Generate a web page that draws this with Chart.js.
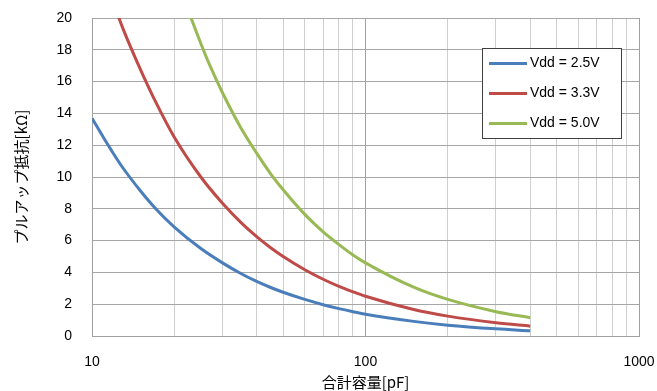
<!DOCTYPE html>
<html>
<head>
<meta charset="utf-8">
<script src="https://cdn.jsdelivr.net/npm/chart.js@4"></script>
<style>
  html, body { margin: 0; padding: 0; background: #fff; }
  #wrap { width: 657px; height: 391px; }
</style>
</head>
<body>
<div id="wrap"><canvas id="chart1" width="657" height="391"></canvas></div>
<script>
// capacitance [pF] and max pull-up resistance [kΩ]
const capBlue = [10, 11, 12, 13, 15, 17, 20, 25, 30, 35, 40, 45, 50, 60, 70, 80, 90, 100, 150, 200, 300, 400];
const vdd25 = [13.7, 12.5, 11.45, 10.55, 9.15, 8.05, 6.85, 5.5, 4.6, 3.93, 3.43, 3.05, 2.75, 2.3, 1.97, 1.72, 1.53, 1.37, 0.92, 0.68, 0.45, 0.33];
const capRed = [12, 13, 15, 17, 20, 25, 30, 35, 40, 45, 50, 60, 70, 80, 90, 100, 150, 200, 300, 400];
const vdd33 = [20.9, 19.3, 16.8, 14.8, 12.5, 10.0, 8.35, 7.15, 6.25, 5.55, 5.0, 4.17, 3.57, 3.12, 2.78, 2.5, 1.67, 1.25, 0.83, 0.62];
const capGreen = [22, 25, 27, 30, 35, 40, 45, 50, 60, 70, 80, 90, 100, 150, 200, 300, 400];
const vdd50 = [20.9, 18.4, 17.0, 15.3, 13.1, 11.5, 10.2, 9.2, 7.65, 6.55, 5.75, 5.1, 4.6, 3.07, 2.3, 1.53, 1.15];

const seriesNames = ['Vdd = 2.5V', 'Vdd = 3.3V', 'Vdd = 5.0V'];
const xTicks = [10, 20, 30, 40, 50, 60, 70, 80, 90, 100, 200, 300, 400, 500, 600, 700, 800, 900, 1000];
const xLabels = [10, 100, 1000];

const toPoints = (xs, ys) => xs.map((x, i) => ({ x: x, y: ys[i] }));

// legend box drawn inside the plot area
const boxLegend = {
    id: 'boxLegend',
    afterDraw(chart) {
        const ctx = chart.ctx;
        ctx.save();
        ctx.fillStyle = '#fff';
        ctx.fillRect(482, 48, 139, 90);
        ctx.strokeStyle = '#404040';
        ctx.lineWidth = 1;
        ctx.strokeRect(482.5, 48.5, 139, 90);
        ctx.font = '14px "Liberation Sans", Arial, sans-serif';
        ctx.textBaseline = 'middle';
        ctx.fillStyle = '#000';
        chart.data.datasets.forEach((ds, i) => {
            const y = 63.5 + i * 30;
            ctx.strokeStyle = ds.borderColor;
            ctx.lineWidth = 3;
            ctx.beginPath();
            ctx.moveTo(489, y);
            ctx.lineTo(527, y);
            ctx.stroke();
            ctx.fillText(ds.label, 530, y);
        });
        ctx.restore();
    }
};

const chart1Ctx = document.getElementById("chart1").getContext("2d");
const chart1 = new Chart(chart1Ctx, {
    type: 'line',
    data: {
        datasets: [{
            label: seriesNames[0],
            data: toPoints(capBlue, vdd25),
            borderColor: '#4a7ebb',
        }, {
            label: seriesNames[1],
            data: toPoints(capRed, vdd33),
            borderColor: '#be4b48',
        }, {
            label: seriesNames[2],
            data: toPoints(capGreen, vdd50),
            borderColor: '#98b954',
        }]
    },
    options: {
        responsive: false,
        animation: false,
        devicePixelRatio: 1,
        elements: {
            line: { borderWidth: 3, cubicInterpolationMode: 'monotone', fill: false },
            point: { radius: 0 }
        },
        layout: { padding: { top: 18, right: 18, left: 0, bottom: 0 } },
        plugins: {
            legend: { display: false },
            tooltip: { enabled: false }
        },
        scales: {
            x: {
                type: 'logarithmic',
                min: 10,
                max: 1000,
                afterBuildTicks: (scale) => { scale.ticks = xTicks.map(v => ({ value: v })); },
                afterFit: (scale) => {
                    scale.height = 55;
                    scale.paddingLeft = 0;
                    scale.paddingRight = 0;
                },
                ticks: {
                    autoSkip: false,
                    maxRotation: 0,
                    padding: 18,
                    color: '#000',
                    font: { size: 14, family: '"Liberation Sans", Arial, sans-serif' },
                    callback: (v) => xLabels.includes(v) ? String(v) : ''
                },
                grid: {
                    drawTicks: false,
                    color: (c) => xLabels.includes(c.tick && c.tick.value) ? '#a0a0a0' : '#cfcfcf'
                },
                border: { color: '#a0a0a0' },
                title: {
                    display: true,
                    text: '合計容量[pF]',
                    color: '#000',
                    padding: { top: 2, bottom: 0 },
                    font: { size: 15, family: '"Noto Sans CJK JP", sans-serif' }
                }
            },
            y: {
                min: 0,
                max: 20,
                afterFit: (scale) => {
                    scale.width = 92;
                    scale.paddingTop = 0;
                    scale.paddingBottom = 0;
                },
                ticks: {
                    stepSize: 2,
                    padding: 20,
                    color: '#000',
                    font: { size: 14, family: '"Liberation Sans", Arial, sans-serif' }
                },
                grid: { drawTicks: false, color: '#a6a6a6' },
                border: { color: '#a0a0a0' },
                title: {
                    display: true,
                    text: 'プルアップ抵抗[kΩ]',
                    color: '#000',
                    padding: { top: 12, bottom: 0 },
                    font: { size: 15, family: '"Noto Sans CJK JP", sans-serif' }
                }
            }
        }
    },
    plugins: [boxLegend]
});
</script>
</body>
</html>
